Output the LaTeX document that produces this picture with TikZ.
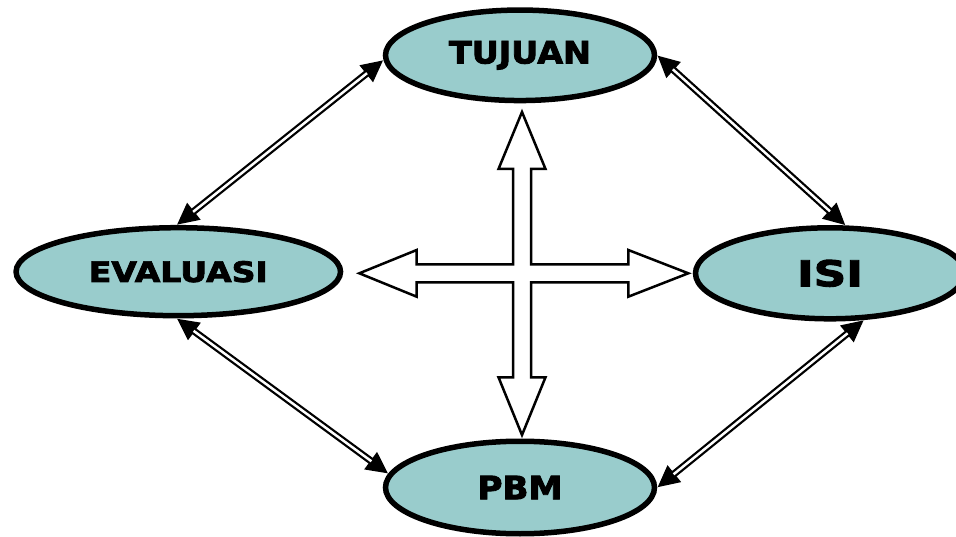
\documentclass[tikz,border=0pt]{standalone}
\usepackage{fontspec}
\setmainfont{DejaVu Sans}
\newfontfamily\lblfont{DejaVu Sans}[BoldFeatures={FakeBold=2.6}]
\usepackage{graphicx}
\usetikzlibrary{arrows.meta,shapes.geometric}
\definecolor{ovalfill}{HTML}{99CCCC}
\newcommand{\lbltext}[3]{\resizebox{#1}{#2}{\lblfont\bfseries #3}}
\tikzset{
  oval/.style={ellipse, draw=black, line width=5.5pt, fill=ovalfill, inner sep=0pt},
  linkouter/.style={line width=7pt, {Triangle[length=22pt,width=20pt]}-{Triangle[length=22pt,width=20pt]}},
  linkinner/.style={line width=2.5pt, white, shorten <=21pt, shorten >=21pt},
  crossarrow/.style={draw=black, fill=white, line width=2.5pt, line join=miter}
}
\begin{document}
\begin{tikzpicture}[x=1pt,y=-1pt]
\useasboundingbox (0,0) rectangle (956,537);
\clip (0,0) rectangle (956,537);

\node[oval, minimum width=269pt, minimum height=90.5pt] (tuj) at (520,55.3)
  {\lbltext{142pt}{22.5pt}{TUJUAN}};
\node[oval, minimum width=324.5pt, minimum height=88pt] (eva) at (178.3,271.7)
  {\lbltext{179pt}{21pt}{EVALUASI}};
\node[oval, minimum width=269pt, minimum height=91pt] (isi) at (830,273.3)
  {\lbltext{66pt}{26.5pt}{ISI}};
\node[oval, minimum width=269pt, minimum height=92.5pt] (pbm) at (520,487.5)
  {\lbltext{85pt}{23.5pt}{PBM}};

\foreach \a/\b in {tuj.182/eva.92, tuj.east/isi.72, eva.268/pbm.174, isi.-54/pbm.east}{
  \draw[linkouter] (\a) -- (\b);
  \draw[linkinner] (\a) -- (\b);
}

\draw[crossarrow] (522,112) -- (545.5,169) -- (531,169) -- (531,264.3)
  -- (628.3,264.3) -- (628.3,250) -- (688.3,273.3) -- (628.3,296.7) -- (628.3,282.3)
  -- (531,282.3) -- (531,377.3) -- (545.5,377.3) -- (522,435) -- (498.5,377.3)
  -- (513,377.3) -- (513,282.3) -- (416.7,282.3) -- (416.7,296.7) -- (359.3,273.3)
  -- (416.7,250) -- (416.7,264.3) -- (513,264.3) -- (513,169) -- (498.5,169) -- cycle;
\end{tikzpicture}
\end{document}
